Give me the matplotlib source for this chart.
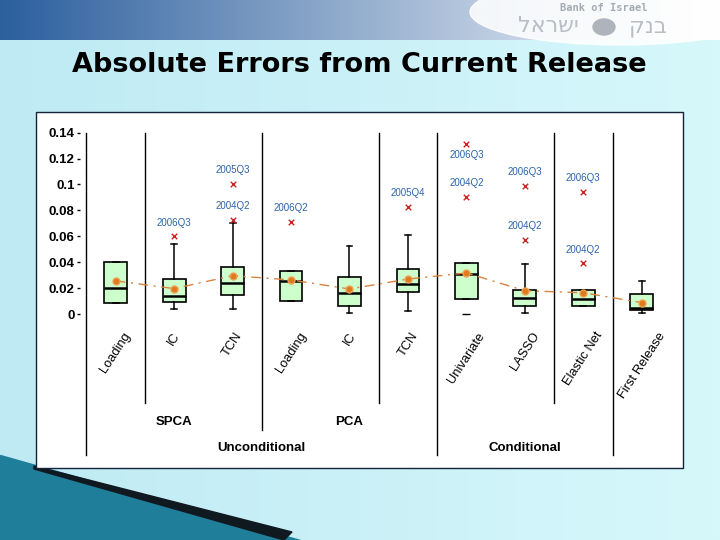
#!/usr/bin/env python3
"""
Absolute errors from current release: box plots per nowcasting method,
drawn on a slide-like background.
"""

import numpy as np
import matplotlib
matplotlib.use("Agg")

import matplotlib.pyplot as plt
from matplotlib.colors import to_rgb
from matplotlib.patches import Rectangle, Polygon, Ellipse


# --- data ---
categories = ["Loading", "IC", "TCN", "Loading", "IC", "TCN",
              "Univariate", "LASSO", "Elastic Net", "First Release"]
q1 = [0.0083, 0.0090, 0.0144, 0.0103, 0.0059, 0.0167, 0.0113, 0.0059, 0.0059, 0.0031]
median = [0.0204, 0.0138, 0.0242, 0.0252, 0.0162, 0.0232, 0.0306, 0.0121, 0.0119, 0.0044]
q3 = [0.0399, 0.0268, 0.0362, 0.0332, 0.0286, 0.0345, 0.0393, 0.0183, 0.0183, 0.0154]
whisker_low = [0.0083, 0.0036, 0.0036, 0.0103, 0.0005, 0.0023, 0.0113, 0.0008, 0.0059, 0.0010]
whisker_high = [0.0399, 0.0540, 0.0705, 0.0332, 0.0525, 0.0607, 0.0393, 0.0384, 0.0183, 0.0255]
means = [0.0256, 0.0196, 0.0296, 0.0263, 0.0193, 0.0270, 0.0317, 0.0180, 0.0164, 0.0088]

# labelled outliers: box number (1-based), value, quarter
outlier_box = [2, 3, 3, 4, 6, 7, 7, 8, 8, 9, 9]
outlier_value = [0.0600, 0.1004, 0.0726, 0.0713, 0.0829, 0.1310, 0.0903, 0.0988, 0.0571, 0.0945, 0.0391]
outlier_label = ["2006Q3", "2005Q3", "2004Q2", "2006Q2", "2005Q4", "2006Q3",
                 "2004Q2", "2006Q3", "2004Q2", "2006Q3", "2004Q2"]
label_below = [False, False, False, False, False, True, False, False, False, False, False]

# unlabelled low outlier under Univariate
extra_outlier_box = [7]
extra_outlier_value = [0.0]

yticks = [0, 0.02, 0.04, 0.06, 0.08, 0.1, 0.12, 0.14]
ytick_labels = ["0", "0.02", "0.04", "0.06", "0.08", "0.1", "0.12", "0.14"]

sub_groups = [("SPCA", 1, 3), ("PCA", 4, 6)]
main_groups = [("Unconditional", 1, 6), ("Conditional", 7, 9)]

TITLE = "Absolute Errors from Current Release"

# separators between boxes: (position, lower end in data units)
separators = [(0.5, -0.109), (1.5, -0.0687), (3.5, -0.0896), (5.5, -0.0687),
              (6.5, -0.109), (8.5, -0.0687), (9.5, -0.109)]

BOX_FILL = "#ccffcc"
MEAN_COLOR = "#e07a1f"
OUT_COLOR = "#cc2222"
LABEL_BLUE = "#2a64a8"
CHART_FONT = "Liberation Sans"


def hgrad(c1, c2, w, h=2):
    a = np.array(to_rgb(c1))
    b = np.array(to_rgb(c2))
    t = np.linspace(0, 1, w)[None, :, None]
    return np.repeat(a + (b - a) * t, h, axis=0)


def draw_background(fig):
    bg = fig.add_axes([0, 0, 1, 1])
    bg.set_xlim(0, 720)
    bg.set_ylim(540, 0)
    bg.axis("off")

    # slide body
    bg.imshow(hgrad("#bfeaf4", "#d6f8fb", 256), extent=(0, 720, 540, 40),
              aspect="auto", zorder=0)
    # header band
    bg.imshow(hgrad("#2c5f9e", "#ffffff", 256), extent=(0, 720, 40, 0),
              aspect="auto", zorder=1)
    bg.add_patch(Ellipse((620, 12), 300, 66, color="white", alpha=0.85, zorder=2))
    bg.text(604, 8, "Bank of Israel", fontsize=7.5, family="DejaVu Sans Mono",
            fontweight="bold", color="#a3abb4", ha="center", va="center", zorder=3)
    bg.text(548, 26, "לארשי", fontsize=16, color="#b9bec6",
            ha="center", va="center", zorder=3)
    bg.text(648, 27, "קנב", fontsize=16, color="#b9bec6",
            ha="center", va="center", zorder=3)
    bg.add_patch(Ellipse((604, 27), 22, 16, color="#aeb4bc", zorder=3))

    # bottom-left swoosh
    bg.add_patch(Polygon([(0, 455), (0, 540), (300, 540)], closed=True,
                         color="#1f7e9a", zorder=1))
    bg.add_patch(Polygon([(34, 466), (292, 532), (284, 540), (34, 469)], closed=True,
                         color="#101820", zorder=1))

    # chart panel
    bg.add_patch(Rectangle((36, 112), 647, 356, facecolor="white",
                           edgecolor="#13233a", linewidth=1.0, zorder=2))

    bg.text(359, 65, TITLE, fontsize=19.5, family="DejaVu Sans", fontweight="bold",
            color="black", ha="center", va="center", zorder=3)


def main() -> None:
    fig = plt.figure(figsize=(7.2, 5.4), dpi=100)
    draw_background(fig)

    ax = fig.add_axes([0.1112, 0.4065, 0.8296, 0.3598])
    ax.set_facecolor("none")
    ax.set_xlim(0.39, 10.61)
    ax.set_ylim(-0.005, 0.145)
    positions = list(range(1, len(categories) + 1))

    stats = []
    for i in range(len(categories)):
        stats.append(dict(med=median[i], q1=q1[i], q3=q3[i],
                          whislo=whisker_low[i], whishi=whisker_high[i],
                          mean=means[i], fliers=[]))

    ax.bxp(stats, positions=positions, widths=0.39, capwidths=0.1,
           patch_artist=True, showfliers=False,
           boxprops=dict(facecolor=BOX_FILL, edgecolor="black", linewidth=1.2),
           medianprops=dict(color="black", linewidth=1.8),
           whiskerprops=dict(color="black", linewidth=1.1, linestyle="-"),
           capprops=dict(color="black", linewidth=1.1))

    # mean line + markers
    ax.plot(positions, means, color="#d9843e", linewidth=1.0,
            linestyle=(0, (7, 4, 1.5, 4)), zorder=4)
    ax.plot(positions, means, "o", color=MEAN_COLOR, markersize=5,
            markeredgecolor="#f0a050", zorder=5)

    # outliers
    ax.scatter(outlier_box, outlier_value, marker="x", color=OUT_COLOR,
               s=16, linewidths=1.0, zorder=5, clip_on=False)
    ax.scatter(extra_outlier_box, extra_outlier_value, marker="_", color="black",
               s=30, linewidths=1.0, zorder=5, clip_on=False)
    for b, v, lab, below in zip(outlier_box, outlier_value, outlier_label, label_below):
        y = v - 0.0082 if below else v + 0.0105
        ax.text(b, y, lab, fontsize=7, color=LABEL_BLUE, family=CHART_FONT,
                ha="center", va="center", zorder=6)

    # separators
    for x, y_end in separators:
        ax.plot([x, x], [0.14, y_end], color="black", linewidth=1.0,
                clip_on=False, zorder=3)

    # category labels under the boxes
    for p, cat in zip(positions, categories):
        ax.text(p, -0.0124, cat, rotation=57, ha="center", va="top",
                fontsize=9.3, family=CHART_FONT, clip_on=False)

    for name, a, b in sub_groups:
        ax.text((a + b) / 2, -0.0834, name, ha="center", va="center",
                fontsize=9.5, fontweight="bold", family=CHART_FONT)
    for name, a, b in main_groups:
        ax.text((a + b) / 2, -0.1035, name, ha="center", va="center",
                fontsize=9.5, fontweight="bold", family=CHART_FONT)

    ax.set_xticks([])
    ax.set_yticks(yticks)
    ax.set_yticklabels(ytick_labels, fontsize=9.5, fontweight="bold", family=CHART_FONT)
    ax.tick_params(axis="y", length=2.5, width=1.0, pad=1.5)
    for s in ax.spines.values():
        s.set_visible(False)

    fig.savefig("out.png", dpi=100)
    plt.close(fig)


if __name__ == "__main__":
    main()
